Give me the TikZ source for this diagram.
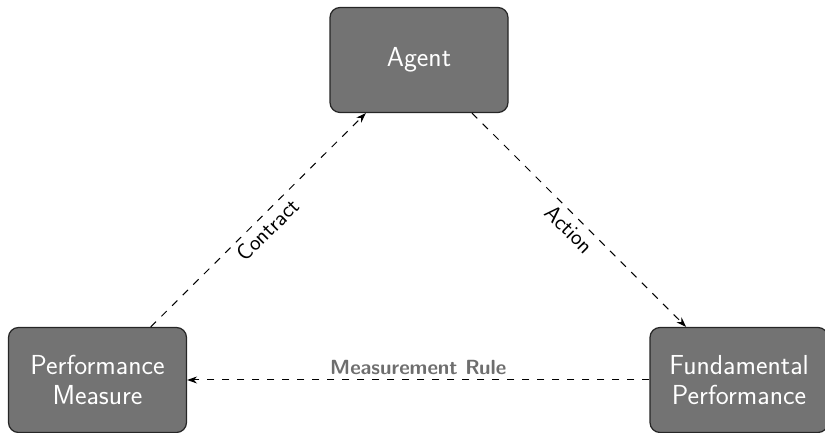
\documentclass[tikz,border=0pt]{standalone}
\usepackage{fontspec}
\usetikzlibrary{arrows.meta}
\definecolor{boxgray}{RGB}{115,115,115}
\definecolor{labelgray}{RGB}{110,110,110}
\tikzset{
  block/.style={draw=black!85, line width=1.2pt, fill=boxgray, rounded corners=10pt,
    minimum width=178pt, minimum height=105pt, align=center, text=white,
    font=\sffamily\fontsize{27.5}{30}\selectfont},
  link/.style={draw=black, line width=1pt, dash pattern=on 7.5pt off 7.5pt,
    -{Stealth[length=10pt,width=7pt]}},
  lbl/.style={font=\sffamily\fontsize{22.5}{26}\selectfont, text=black, inner sep=5pt},
  glbl/.style={font=\sffamily\bfseries\fontsize{20.5}{24}\selectfont, text=labelgray, inner sep=5pt}
}
\begin{document}
\begin{tikzpicture}[x=1pt,y=1pt]
\useasboundingbox (0,0) rectangle (825,433);
\node[block] (agent) at (419,373) {Agent};
\node[block] (pm) at (97.5,53) {Performance\\Measure};
\node[block] (fp) at (739,53) {Fundamental\\Performance};
\draw[link] (pm) -- node[lbl, sloped, below] {Contract} (agent);
\draw[link] (agent) -- node[lbl, sloped, below] {Action} (fp);
\draw[link] (fp) -- node[glbl, above] {Measurement Rule} (pm);
\end{tikzpicture}
\end{document}
